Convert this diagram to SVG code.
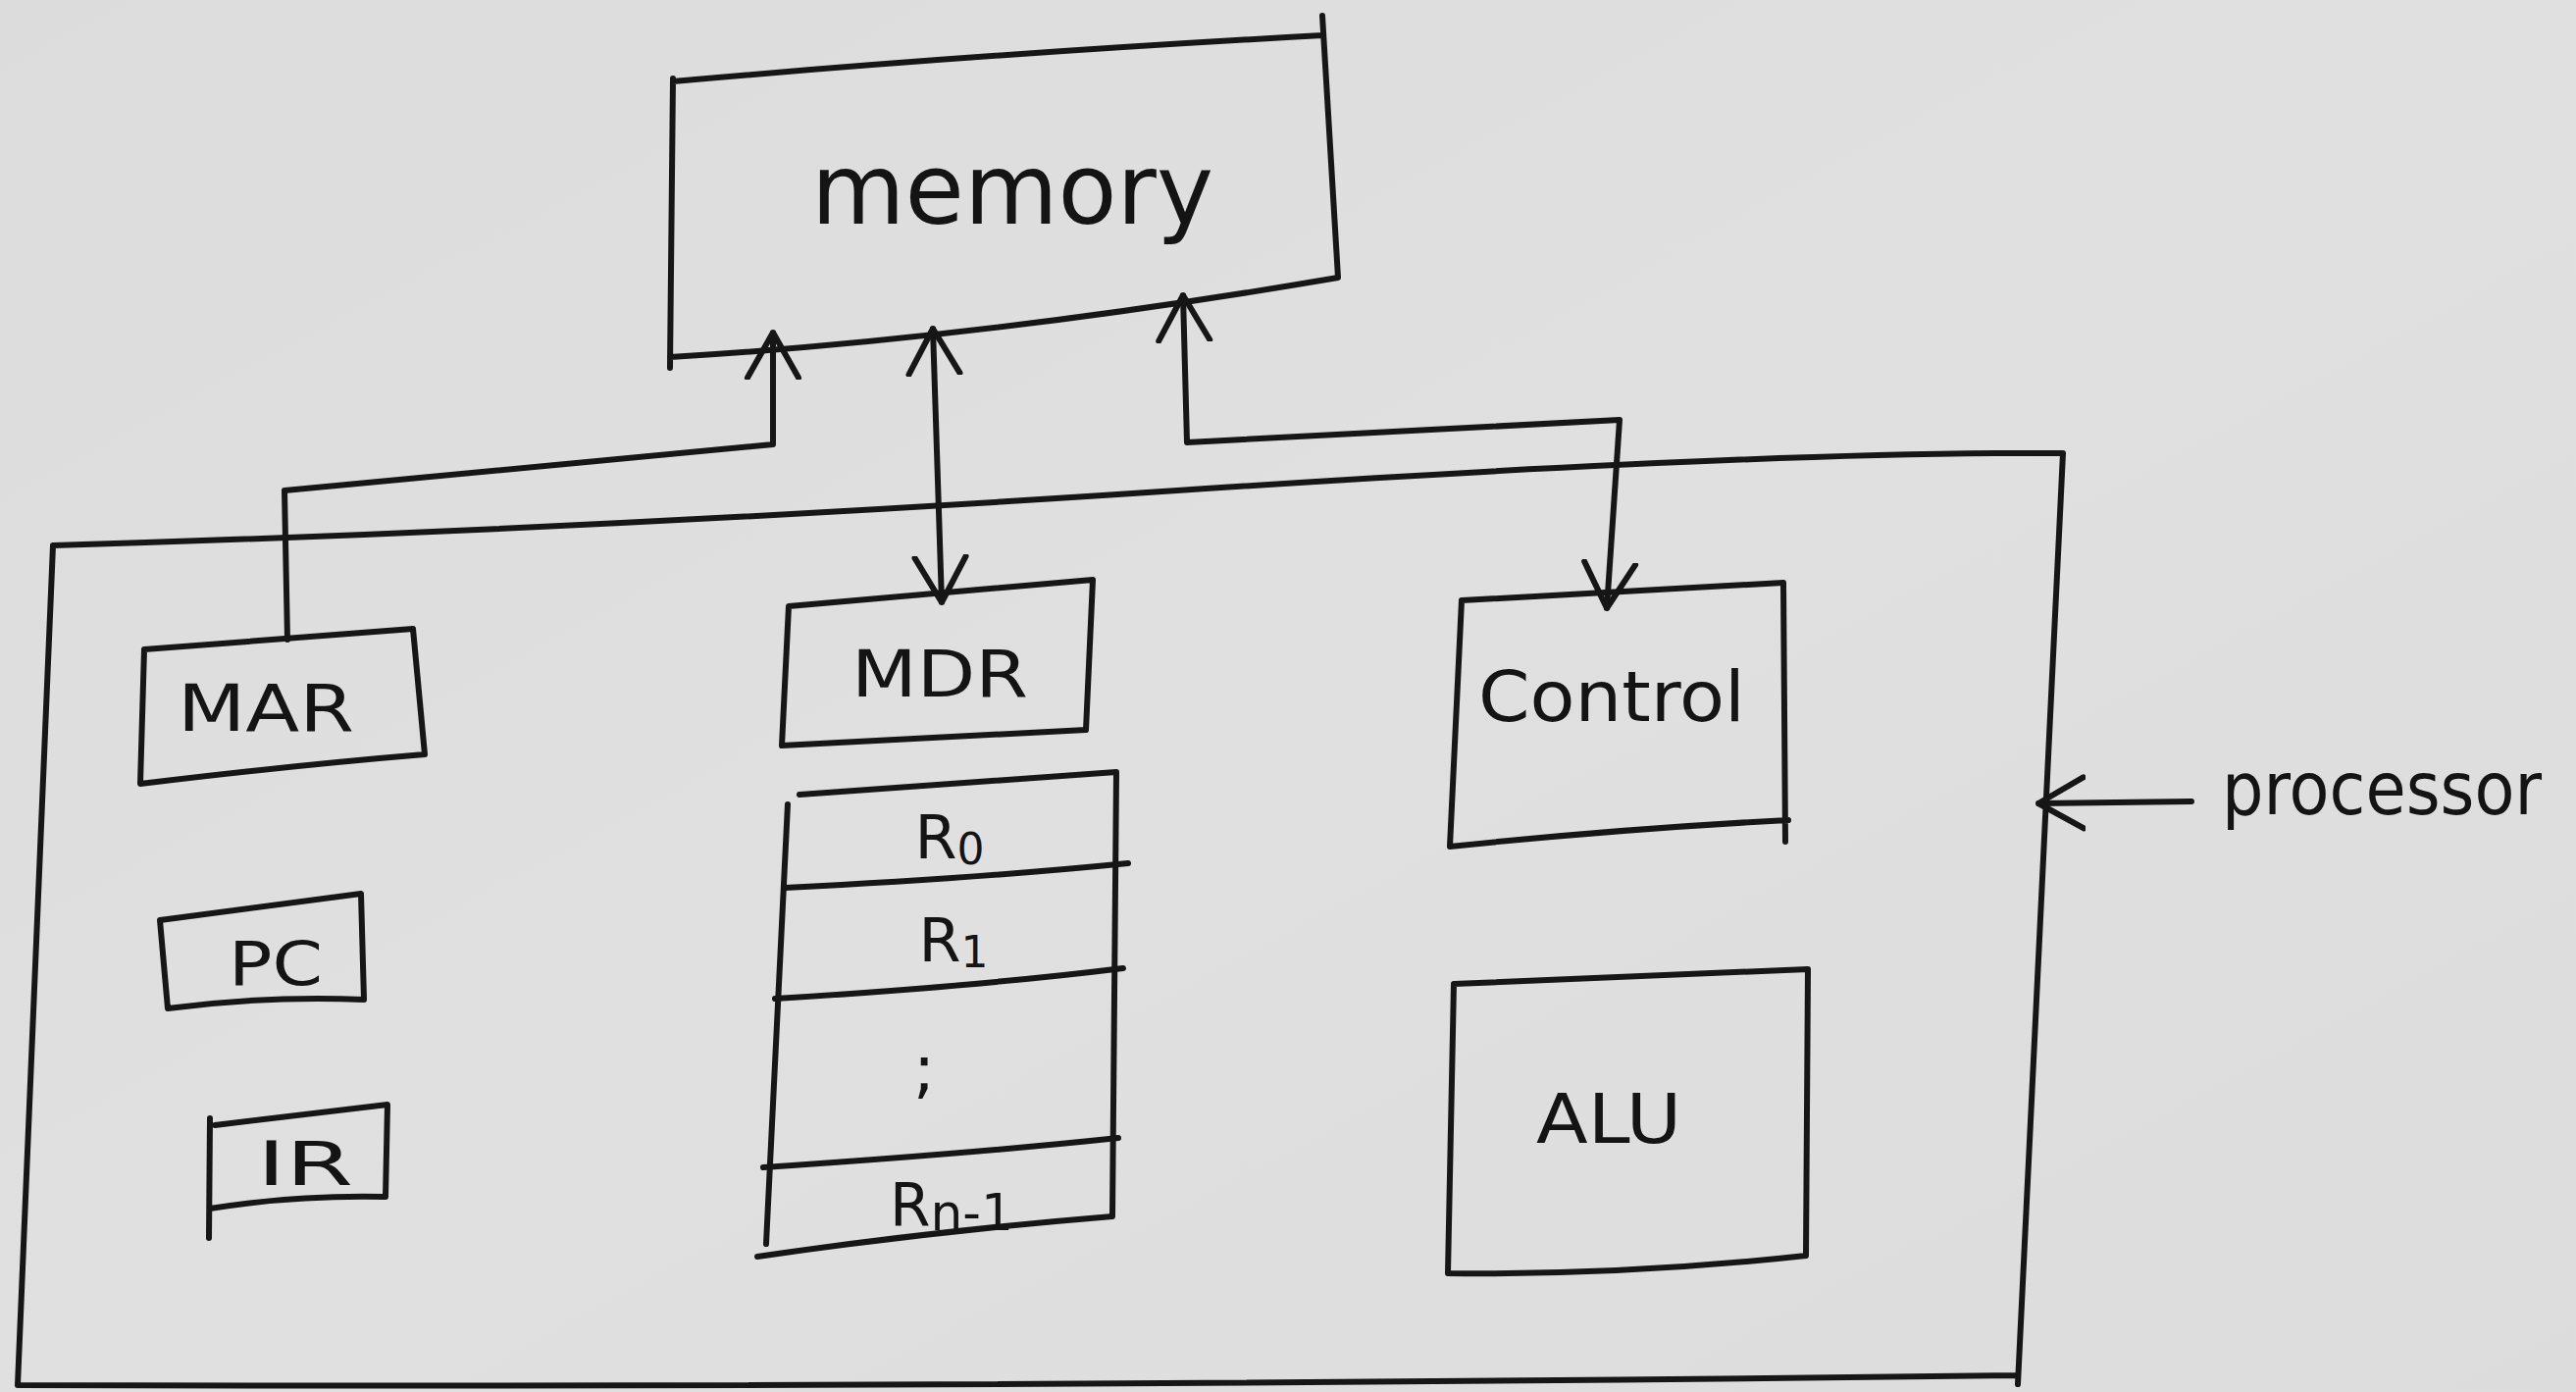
<svg xmlns="http://www.w3.org/2000/svg" width="2626" height="1419" viewBox="0 0 2626 1419">
<defs>
<marker id="v" viewBox="0 0 50 60" refX="48" refY="30" markerWidth="50" markerHeight="60" markerUnits="userSpaceOnUse" orient="auto-start-reverse">
<path d="M2,4 L48,30 L2,56" fill="none" stroke="#161616" stroke-width="6" stroke-linecap="round" stroke-linejoin="round"/>
</marker>
<linearGradient id="paper" x1="0" y1="0" x2="1" y2="1">
<stop offset="0" stop-color="#dcdcdc"/>
<stop offset="0.5" stop-color="#e0e0e0"/>
<stop offset="1" stop-color="#dcdcdc"/>
</linearGradient>
</defs>
<style>
.ln{fill:none;stroke:#161616;stroke-width:6;stroke-linecap:round;stroke-linejoin:round}
.t{font-family:"DejaVu Sans","Liberation Sans",sans-serif;fill:#141414;text-anchor:middle}
</style>
<rect x="0" y="0" width="2626" height="1419" fill="url(#paper)"/>

<g id="processor">
<path class="ln" d="M54,556 Q600,540 1200,500 T2103,462 L2057,1411 M2057,1402 Q1000,1415 18,1412 L54,556"/>
</g>

<g id="memory">
<path class="ln" d="M686,83 Q1000,55 1348,36 M1348,16 L1364,283 Q1000,345 683,364 M686,80 L683,375"/>
<text class="t" x="1032" y="228" font-size="100" textLength="410" lengthAdjust="spacingAndGlyphs">memory</text>
</g>

<g id="mar">
<path class="ln" d="M147,662 L421,641 L433,769 Q300,780 143,799 Z"/>
<text class="t" x="271" y="745" font-size="66" textLength="180" lengthAdjust="spacingAndGlyphs">MAR</text>
</g>

<g id="mdr">
<path class="ln" d="M804,618 L1114,591 L1107,744 Q950,752 797,760 Z"/>
<text class="t" x="958" y="710" font-size="66" textLength="180" lengthAdjust="spacingAndGlyphs">MDR</text>
</g>

<g id="registers">
<path class="ln" d="M815,810 L1138,787 L1134,1240 Q950,1255 772,1281 M803,820 L781,1268"/>
<path class="ln" d="M800,905 Q1000,895 1150,880 M790,1018 Q1000,1005 1145,987 M778,1190 Q1000,1175 1140,1160"/>
<text class="t" x="968" y="875" font-size="62">R<tspan font-size="44" dy="6">0</tspan></text>
<text class="t" x="972" y="980" font-size="62">R<tspan font-size="44" dy="6">1</tspan></text>
<text class="t" x="942" y="1112" font-size="66">;</text>
<text class="t" x="970" y="1250" font-size="60" textLength="126" lengthAdjust="spacingAndGlyphs">R<tspan font-size="52" dy="4">n-1</tspan></text>
</g>

<g id="pc">
<path class="ln" d="M163,938 L368,911 L371,1019 Q270,1015 171,1028 Z"/>
<text class="t" x="281" y="1004" font-size="62" textLength="96" lengthAdjust="spacingAndGlyphs">PC</text>
</g>

<g id="ir">
<path class="ln" d="M219,1147 L395,1126 L393,1220 Q300,1218 214,1232 M214,1140 L213,1262"/>
<text class="t" x="311" y="1208" font-size="62" textLength="98" lengthAdjust="spacingAndGlyphs">IR</text>
</g>

<g id="control">
<path class="ln" d="M1490,612 L1818,594 L1820,858 M1823,836 Q1650,845 1478,863 L1490,612"/>
<text class="t" x="1643" y="735" font-size="72" textLength="272" lengthAdjust="spacingAndGlyphs">Control</text>
</g>

<g id="alu">
<path class="ln" d="M1482,1003 L1843,988 L1841,1280 Q1660,1300 1476,1298 Z"/>
<text class="t" x="1640" y="1165" font-size="70" textLength="148" lengthAdjust="spacingAndGlyphs">ALU</text>
</g>

<g id="processor-label">
<text class="t" x="2428" y="830" font-size="74" textLength="326" lengthAdjust="spacingAndGlyphs">processor</text>
</g>

<g id="connectors">
<path class="ln" marker-end="url(#v)" d="M293,652 L290,500 L788,453 L788,339"/>
<path class="ln" marker-start="url(#v)" marker-end="url(#v)" d="M951,335 L960,614"/>
<path class="ln" marker-start="url(#v)" marker-end="url(#v)" d="M1206,301 L1210,451 L1651,428 L1638,620"/>
<path class="ln" marker-end="url(#v)" d="M2234,817 L2078,819"/>
</g>
</svg>
